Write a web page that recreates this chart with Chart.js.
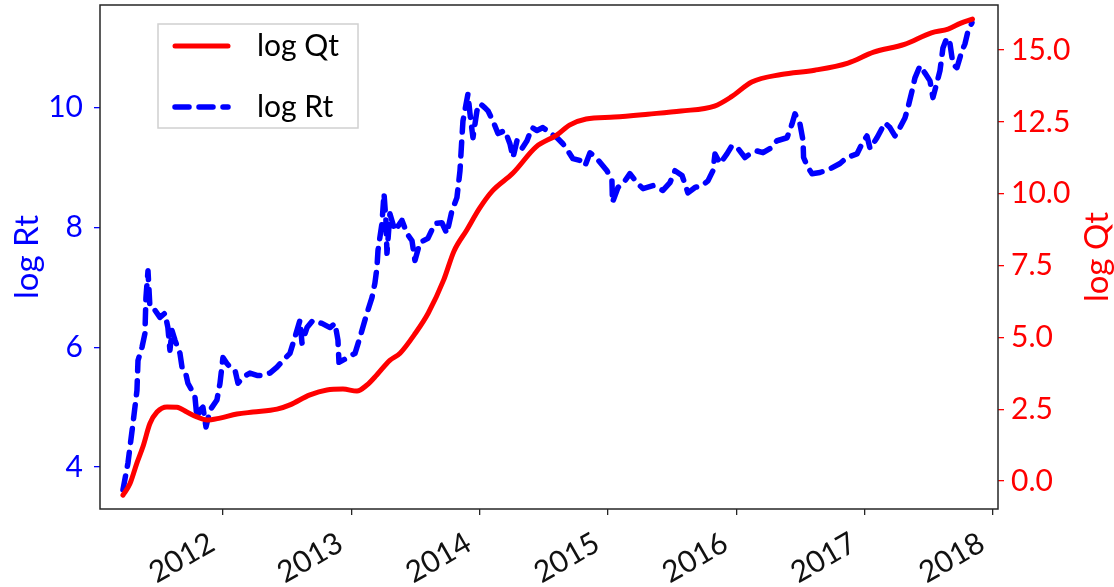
<!DOCTYPE html>
<html><head><meta charset="utf-8">
<script src="https://cdn.jsdelivr.net/npm/chart.js@4"></script>
<style>html,body{margin:0;padding:0;background:#fff}canvas{display:block}</style>
</head><body>
<canvas id="c" width="1114" height="587"></canvas>
<script>
// ---- data (decimal years) ----
const qtYears = [2011.221,2011.275,2011.330,2011.377,2011.431,2011.486,2011.564,2011.642,2011.719,2011.797,2011.875,2011.977,2012.109,2012.234,2012.421,2012.522,2012.678,2012.810,2012.935,2013.044,2013.122,2013.200,2013.300,2013.380,2013.500,2013.600,2013.720,2013.800,2013.900,2014.000,2014.100,2014.260,2014.440,2014.600,2014.700,2014.830,2015.050,2015.310,2015.570,2015.830,2015.960,2016.120,2016.350,2016.610,2016.870,2017.070,2017.310,2017.520,2017.650,2017.750,2017.840];
const qtValues = [-0.49,-0.10,0.63,1.20,2.00,2.40,2.58,2.57,2.40,2.23,2.12,2.19,2.33,2.40,2.50,2.65,3.00,3.17,3.20,3.13,3.34,3.70,4.20,4.45,5.15,5.85,7.00,8.00,8.74,9.50,10.10,10.72,11.63,12.04,12.39,12.60,12.67,12.77,12.88,13.05,13.37,13.89,14.15,14.30,14.55,14.93,15.20,15.60,15.73,15.94,16.08];

const rtYears = [2011.221,2011.260,2011.299,2011.330,2011.338,2011.369,2011.392,2011.400,2011.416,2011.431,2011.470,2011.509,2011.548,2011.571,2011.587,2011.603,2011.626,2011.665,2011.681,2011.704,2011.727,2011.758,2011.782,2011.797,2011.821,2011.844,2011.868,2011.899,2011.953,2011.977,2012.000,2012.031,2012.055,2012.094,2012.117,2012.156,2012.210,2012.265,2012.312,2012.366,2012.421,2012.468,2012.522,2012.561,2012.600,2012.616,2012.655,2012.701,2012.771,2012.834,2012.873,2012.896,2012.904,2012.966,2013.029,2013.068,2013.122,2013.161,2013.184,2013.200,2013.208,2013.239,2013.255,2013.270,2013.278,2013.301,2013.340,2013.395,2013.434,2013.473,2013.496,2013.535,2013.597,2013.652,2013.706,2013.745,2013.784,2013.823,2013.847,2013.862,2013.870,2013.909,2013.925,2013.948,2013.979,2014.003,2014.042,2014.065,2014.104,2014.143,2014.197,2014.236,2014.260,2014.291,2014.330,2014.369,2014.408,2014.447,2014.493,2014.548,2014.603,2014.649,2014.688,2014.727,2014.782,2014.821,2014.860,2014.914,2014.992,2015.031,2015.035,2015.078,2015.132,2015.171,2015.226,2015.273,2015.351,2015.428,2015.483,2015.522,2015.577,2015.600,2015.623,2015.678,2015.732,2015.779,2015.818,2015.834,2015.873,2015.927,2015.966,2016.013,2016.067,2016.106,2016.161,2016.208,2016.262,2016.317,2016.395,2016.434,2016.457,2016.496,2016.520,2016.524,2016.559,2016.590,2016.652,2016.730,2016.808,2016.862,2016.940,2016.979,2017.018,2017.042,2017.096,2017.158,2017.197,2017.236,2017.275,2017.314,2017.337,2017.369,2017.392,2017.431,2017.470,2017.509,2017.532,2017.563,2017.587,2017.610,2017.641,2017.665,2017.688,2017.719,2017.758,2017.782,2017.805,2017.836];
const rtValues = [3.62,4.07,4.73,5.28,5.78,6.00,6.23,6.83,7.28,6.67,6.62,6.50,6.57,6.33,5.95,6.28,6.12,5.90,5.67,5.62,5.40,5.28,5.17,4.83,4.95,5.00,4.67,4.95,5.12,5.40,5.83,5.73,5.67,5.62,5.40,5.50,5.57,5.53,5.53,5.57,5.67,5.78,5.90,6.17,6.45,6.07,6.33,6.45,6.40,6.33,6.40,6.12,5.75,5.82,5.90,6.17,6.57,6.83,7.07,7.33,7.62,8.07,8.57,8.12,7.57,8.23,7.95,8.12,7.90,7.78,7.45,7.75,7.82,8.07,8.08,7.90,8.28,8.50,8.95,9.50,9.78,10.23,9.90,9.50,9.95,10.07,10.00,9.95,9.78,9.57,9.62,9.40,9.17,9.45,9.32,9.45,9.67,9.62,9.67,9.58,9.50,9.40,9.28,9.15,9.12,9.03,9.25,9.15,8.95,8.78,8.42,8.67,8.78,8.90,8.75,8.65,8.70,8.62,8.75,8.95,8.87,8.73,8.58,8.67,8.70,8.78,8.95,9.23,9.07,9.23,9.37,9.32,9.17,9.23,9.28,9.25,9.32,9.45,9.50,9.73,9.90,9.73,9.45,9.17,9.00,8.90,8.92,8.98,9.07,9.17,9.23,9.40,9.53,9.32,9.50,9.75,9.67,9.53,9.67,9.83,10.00,10.28,10.50,10.70,10.58,10.45,10.17,10.42,10.62,11.00,11.17,11.07,10.73,10.67,10.95,11.07,11.28,11.42];

const xTicks = [2012, 2013, 2014, 2015, 2016, 2017, 2018];
const rtTicks = [4, 6, 8, 10];
const qtTicks = [0, 2.5, 5, 7.5, 10, 12.5, 15];
const seriesNames = ['log Qt', 'log Rt'];
const leftTitle = 'log Rt';
const rightTitle = 'log Qt';

const FONT = 'Lato';

const framePlugin = {
  id: 'frame',
  afterDraw(chart) {
    const {ctx, chartArea: a} = chart;
    ctx.save();
    ctx.strokeStyle = '#262626';
    ctx.lineWidth = 1.5;
    ctx.strokeRect(a.left, a.top, a.right - a.left, a.bottom - a.top);
    ctx.restore();
  }
};

const rightTitlePlugin = {
  id: 'rightTitle',
  afterDraw(chart) {
    const {ctx, chartArea: a} = chart;
    const t = chart.options.scales.y1.title;
    ctx.save();
    ctx.translate(1097, (a.top + a.bottom) / 2);
    ctx.rotate(-Math.PI / 2);
    ctx.font = `${t.font.size}px ${FONT}`;
    ctx.fillStyle = t.color;
    ctx.textAlign = 'center';
    ctx.textBaseline = 'middle';
    ctx.fillText(t.text, 0, 0);
    ctx.restore();
  }
};

const legendPlugin = {
  id: 'boxLegend',
  afterDraw(chart) {
    const ctx = chart.ctx;
    ctx.save();
    const bx = 158, by = 24, bw = 200, bh = 104;
    ctx.fillStyle = 'rgba(255,255,255,0.85)';
    ctx.fillRect(bx, by, bw, bh);
    ctx.strokeStyle = '#d0d0d0';
    ctx.lineWidth = 1.5;
    ctx.strokeRect(bx, by, bw, bh);
    chart.data.datasets.forEach((ds, i) => {
      const y = 46 + i * 61;
      ctx.beginPath();
      ctx.strokeStyle = ds.borderColor;
      ctx.lineWidth = ds.borderWidth;
      ctx.lineCap = ds.borderCapStyle || 'round';
      ctx.setLineDash(ds.borderDash || []);
      ctx.moveTo(175, y);
      ctx.lineTo(228, y);
      ctx.stroke();
      ctx.setLineDash([]);
      ctx.font = `30px ${FONT}`;
      ctx.fillStyle = '#000';
      ctx.textAlign = 'left';
      ctx.textBaseline = 'middle';
      ctx.fillText(ds.label, 257, y);
    });
    ctx.restore();
  }
};

function noPad(s) { s.paddingTop = 0; s.paddingBottom = 0; s.paddingLeft = 0; s.paddingRight = 0; }

function draw() {
  const qtData = qtYears.map((x, i) => ({x, y: qtValues[i]}));
  const rtData = rtYears.map((x, i) => ({x, y: rtValues[i]}));
  new Chart(document.getElementById('c'), {
    type: 'line',
    data: {
      datasets: [
        {label: seriesNames[0], data: qtData, yAxisID: 'y1', borderColor: '#ff0000', borderWidth: 5,
         pointRadius: 0, cubicInterpolationMode: 'monotone', borderCapStyle: 'round', borderJoinStyle: 'round', fill: false},
        {label: seriesNames[1], data: rtData, yAxisID: 'y', borderColor: '#0000ff', borderWidth: 5.5,
         pointRadius: 0, tension: 0, borderDash: [14, 10], borderCapStyle: 'round', borderJoinStyle: 'round', fill: false}
      ]
    },
    options: {
      responsive: false,
      animation: false,
      layout: {padding: {top: 5, left: 0, right: 0, bottom: 0}},
      plugins: {legend: {display: false}, tooltip: {enabled: false}},
      scales: {
        x: {
          type: 'linear', min: 2011.042, max: 2018.039,
          afterBuildTicks: s => { s.ticks = xTicks.map(v => ({value: v})); },
          afterFit: s => { s.height = 78; noPad(s); },
          grid: {display: true, drawOnChartArea: false, drawTicks: true, tickLength: 6, color: '#262626', lineWidth: 1.3},
          border: {display: false},
          ticks: {autoSkip: false, minRotation: 30, maxRotation: 30, padding: 10, labelOffset: -11, color: '#111',
                  font: {family: FONT, size: 30}, callback: v => String(v)}
        },
        y: {
          type: 'linear', position: 'left', min: 3.30, max: 11.717,
          afterBuildTicks: s => { s.ticks = rtTicks.map(v => ({value: v})); },
          afterFit: s => { s.width = 100; noPad(s); },
          grid: {display: true, drawOnChartArea: false, drawTicks: true, tickLength: 6, color: '#0000ff', lineWidth: 1.3},
          border: {display: false},
          ticks: {padding: 11, color: '#0000ff', font: {family: FONT, size: 30}, callback: v => String(v)},
          title: {display: true, text: leftTitle, color: '#0000ff', font: {family: FONT, size: 33}, padding: {top: 8, bottom: 0}}
        },
        y1: {
          type: 'linear', position: 'right', min: -0.975, max: 16.57,
          afterBuildTicks: s => { s.ticks = qtTicks.map(v => ({value: v})); },
          afterFit: s => { s.width = 116; noPad(s); },
          grid: {display: true, drawOnChartArea: false, drawTicks: true, tickLength: 6, color: '#ff0000', lineWidth: 1.3},
          border: {display: false},
          ticks: {padding: 7, color: '#ff0000', font: {family: FONT, size: 30}, callback: v => Number(v).toFixed(1)},
          title: {display: false, text: rightTitle, color: '#ff0000', font: {family: FONT, size: 33}}
        }
      }
    },
    plugins: [framePlugin, rightTitlePlugin, legendPlugin]
  });
}

if (document.fonts && document.fonts.load) {
  Promise.all([document.fonts.load(`30px ${FONT}`), document.fonts.load(`33px ${FONT}`)]).then(draw, draw);
} else { draw(); }
</script>
</body></html>
